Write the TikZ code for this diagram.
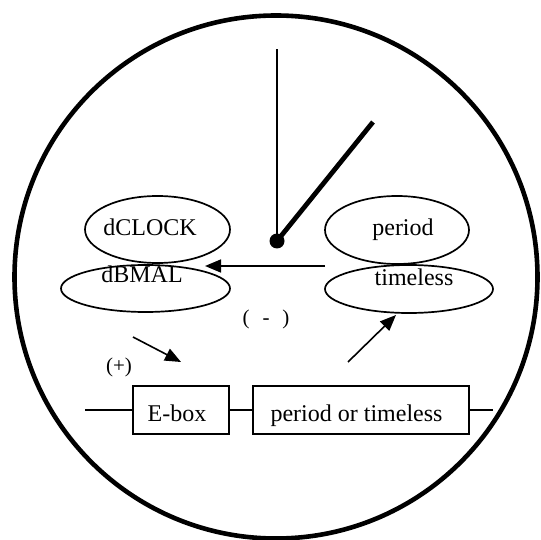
\documentclass[tikz,border=0pt]{standalone}
\usepackage{fontspec}
\setmainfont{Liberation Serif}
\usetikzlibrary{shapes.geometric,arrows.meta}
\begin{document}
\begin{tikzpicture}[x=1pt,y=-1pt,
  ell/.style={draw, ellipse, line width=1.7pt, inner sep=0pt},
  boxnode/.style={draw, rectangle, line width=1.7pt, inner sep=0pt, minimum height=48pt},
  lbl/.style={font=\fontsize{24}{28}\selectfont, anchor=base, inner sep=0pt},
  sml/.style={font=\fontsize{21}{25}\selectfont, anchor=base, inner sep=0pt},
  arr/.style={line width=1.6pt, -{Triangle[length=16pt,width=13pt]}},
  thin/.style={line width=1.6pt}]
\useasboundingbox (0,0) rectangle (541,540);
% clock face
\node[draw, circle, line width=4.6pt, minimum size=523pt, inner sep=0pt] (face) at (276,277) {};
% hands
\node[circle, fill, minimum size=15pt, inner sep=0pt] (hub) at (277,241) {};
\coordinate (twelve) at (277,49);
\coordinate (handtip) at (373,122);
\draw[line width=1.8pt] (hub.center) -- (twelve);
\draw[line width=4.8pt] (hub.center) -- (handtip);
% ellipses
\node[ell, minimum width=145pt, minimum height=67pt] (dclock) at (157.5,229.5) {};
\node[ell, minimum width=169pt, minimum height=47pt] (dbmal) at (145.5,288.5) {};
\node[ell, minimum width=144pt, minimum height=68pt] (period) at (397,230) {};
\node[ell, minimum width=168pt, minimum height=48pt] (timeless) at (409,289) {};
\node[lbl] (tdclock) at (150,236) {dCLOCK};
\node[lbl] (tdbmal) at (142,283) {dBMAL};
\node[lbl] (tperiod) at (403,236) {period};
\node[lbl] (ttimeless) at (414,285) {timeless};
% (-) arrow
\coordinate (minusfrom) at (325,266);
\coordinate (minusto) at (205,266);
\draw[arr] (minusfrom) -- (minusto);
\node[sml] (minus) at (266,324) {(\hspace{13pt}-\hspace{13pt})};
% (+) arrow
\coordinate (plusfrom) at (133,337);
\coordinate (plusto) at (181,362);
\draw[arr] (plusfrom) -- (plusto);
\node[sml] (plus) at (119,372) {(+)};
% right arrow
\coordinate (upfrom) at (348,362);
\coordinate (upto) at (396,315);
\draw[arr] (upfrom) -- (upto);
% gene
\node[boxnode, minimum width=96pt] (ebox) at (181,410) {};
\node[boxnode, minimum width=216pt] (pbox) at (361,410) {};
\node[lbl] (tebox) at (177,421) {E-box};
\node[lbl] (tpbox) at (356.5,421) {period or timeless};
\coordinate (gleft) at (85,410);
\coordinate (gright) at (493,410);
\draw[thin] (gleft) -- (ebox.west);
\draw[thin] (ebox.east) -- (pbox.west);
\draw[thin] (pbox.east) -- (gright);
\end{tikzpicture}
\end{document}
